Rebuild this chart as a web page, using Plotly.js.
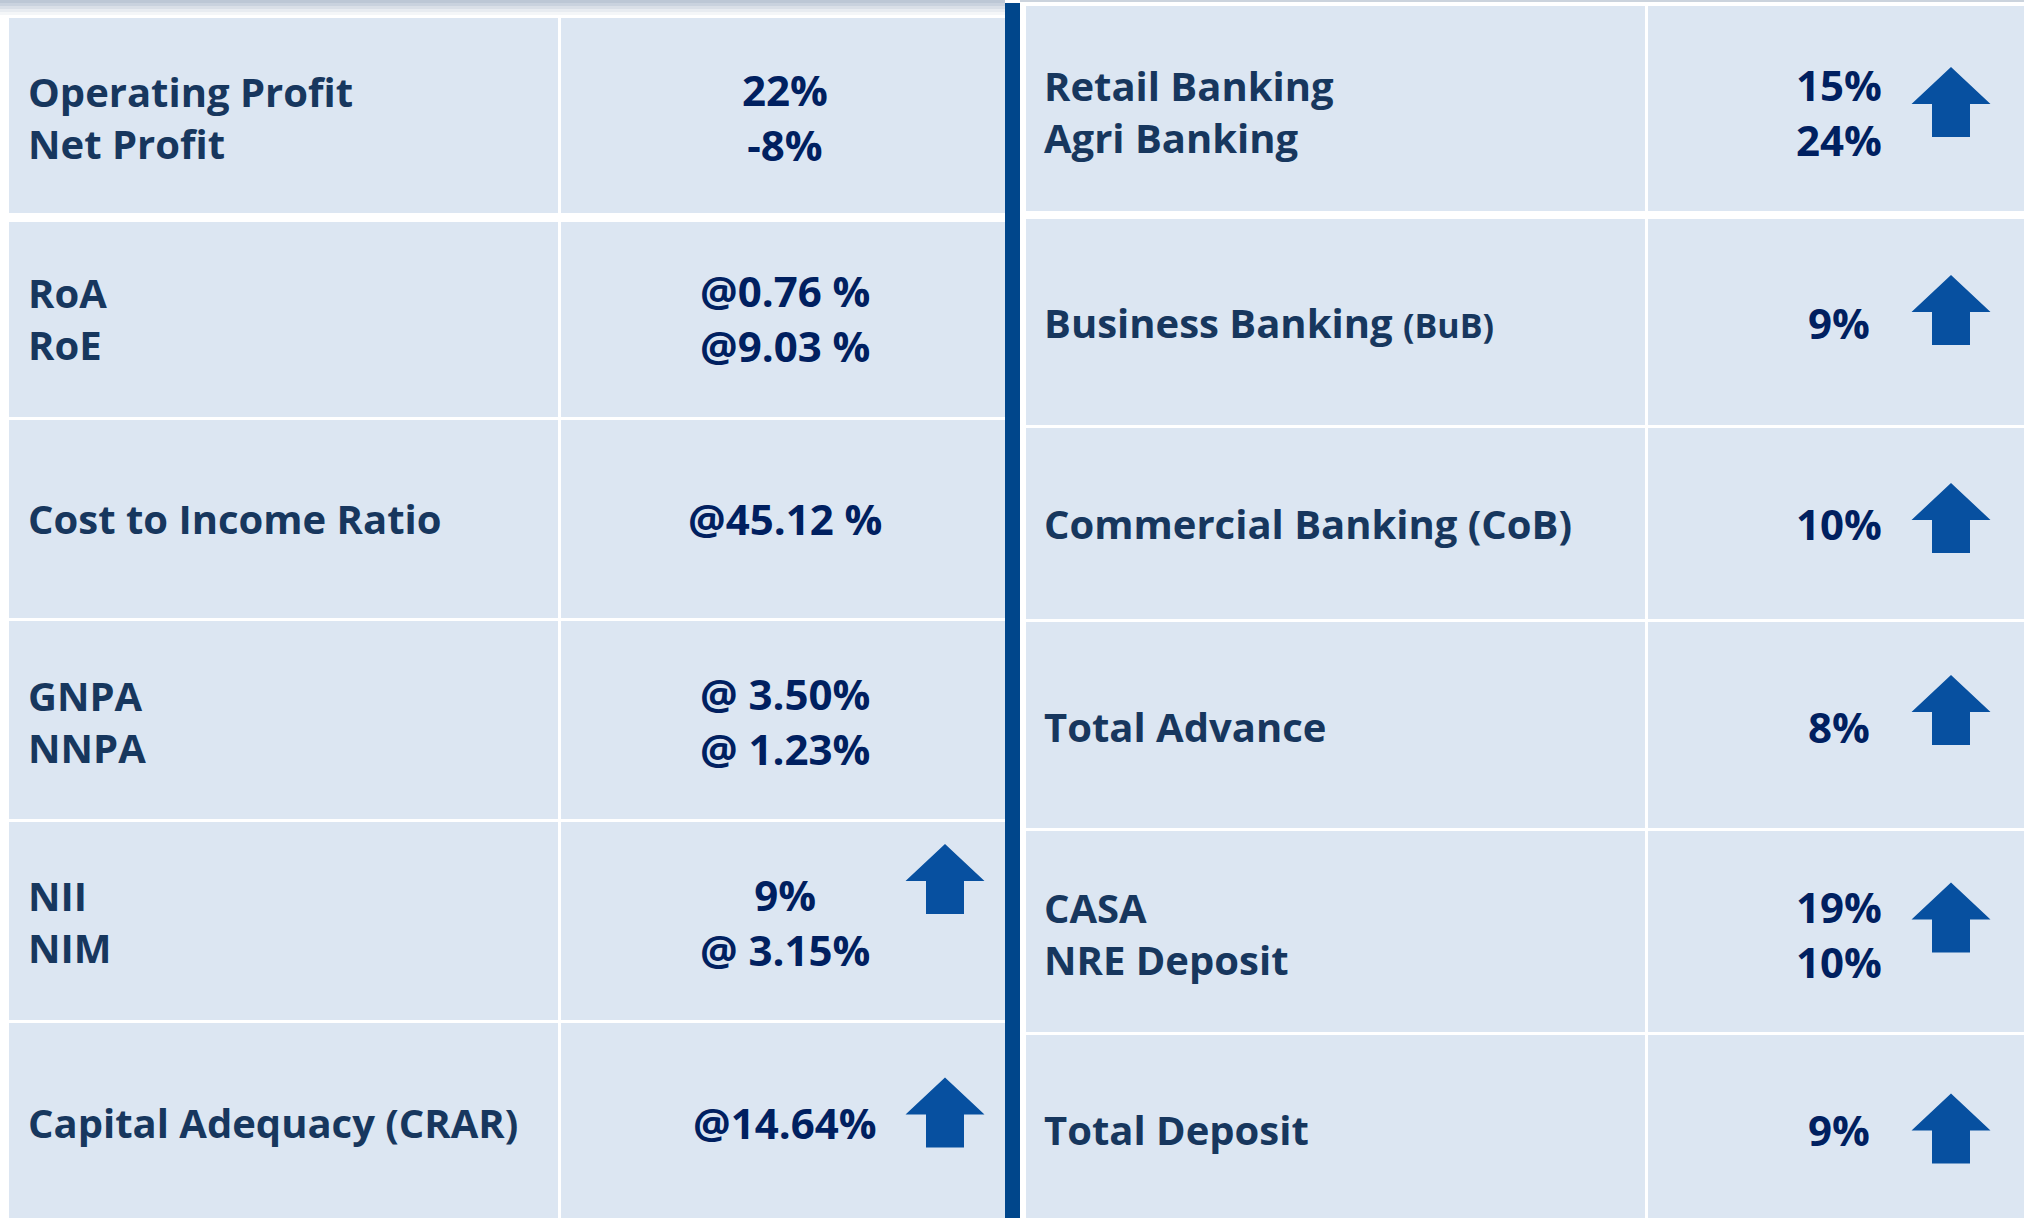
<!DOCTYPE html>
<html>
<head>
<meta charset="utf-8">
<script src="https://cdn.plot.ly/plotly-3.0.1.min.js"></script>
<style>
  html, body { margin: 0; padding: 0; background: #ffffff; }
  #chart { width: 2024px; height: 1218px; }
</style>
</head>
<body>
<div id="chart"></div>
<script>
// ---------------- DATA ----------------
const leftLabels = [
  ["Operating Profit", "Net Profit"],
  ["RoA", "RoE"],
  ["Cost to Income Ratio"],
  ["GNPA", "NNPA"],
  ["NII", "NIM"],
  ["Capital Adequacy (CRAR)"]
];
const leftValues = [
  ["22%", "-8%"],
  ["@0.76 %", "@9.03 %"],
  ["@45.12 %"],
  ["@ 3.50%", "@ 1.23%"],
  ["9%", "@ 3.15%"],
  ["@14.64%"]
];
const leftUp = [false, false, false, false, true, true];

const rightLabels = [
  ["Retail Banking", "Agri Banking"],
  ["Business Banking", "(BuB)"],
  ["Commercial Banking (CoB)"],
  ["Total Advance"],
  ["CASA", "NRE Deposit"],
  ["Total Deposit"]
];
const rightValues = [
  ["15%", "24%"],
  ["9%"],
  ["10%"],
  ["8%"],
  ["19%", "10%"],
  ["9%"]
];
const rightUp = [true, true, true, true, true, true];

// ---------------- LAYOUT GEOMETRY ----------------
const W = 2024, H = 1218;
const CELL_BG = "#DCE6F2";
const LABEL_COLOR = "#17375E";
const VALUE_COLOR = "#002060";
const ARROW_COLOR = "#0750A0";
const BAR_COLOR = "#00468B";
const FONT = "Open Sans, Noto Sans, sans-serif";
const FS_LABEL = 40;
const FS_VALUE = 42;

const panels = [
  {
    labels: leftLabels, values: leftValues, up: leftUp,
    col1: [9, 558], col2: [561, 1005],
    rows: [[18, 213], [222, 417], [420, 618], [621, 819], [822, 1020], [1023, 1230]],
    textDy: [1.5, -1.5, -1, 1, 0.5, -4],
    labelX: 26, valueX: 785, arrowX: 945,
    arrowDy: [0, 0, 0, 0, -42, -14],
    smallSuffix: []
  },
  {
    labels: rightLabels, values: rightValues, up: rightUp,
    col1: [1026, 1645], col2: [1648, 2040],
    rows: [[6, 211], [219, 425], [428, 619], [622, 828], [831, 1032], [1035, 1230]],
    textDy: [3, 0, -0.5, 1, 2, -3],
    labelX: 1042, valueX: 1839, arrowX: 1951,
    arrowDy: [-6.5, -12, -5.5, -15, -14, -4],
    smallSuffix: [1]
  }
];

const shapes = [];
const annotations = [];

// top shadow band (slide edge)
const shadow = ["#BCC7D5", "#C9D2DE", "#D9DFE7", "#E8ECF1", "#F4F6F8"];
shadow.forEach((c, i) => {
  shapes.push({type: "rect", xref: "x", yref: "y", x0: 0, x1: 1005, y0: i * 3, y1: i * 3 + 3,
    fillcolor: c, line: {width: 0}, layer: "below"});
});
shapes.push({type: "rect", xref: "x", yref: "y", x0: 1020, x1: W, y0: 0, y1: 2,
  fillcolor: "#CBD3DD", line: {width: 0}, layer: "below"});

function arrowPath(cx, cy) {
  const top = cy - 35, headBase = cy + 2, bottom = cy + 35;
  const hw = 39.5, sw = 19;
  return `M ${cx} ${top} L ${cx + hw} ${headBase} L ${cx + sw} ${headBase} L ${cx + sw} ${bottom} ` +
         `L ${cx - sw} ${bottom} L ${cx - sw} ${headBase} L ${cx - hw} ${headBase} Z`;
}

panels.forEach(p => {
  p.rows.forEach((r, i) => {
    [p.col1, p.col2].forEach(c => {
      shapes.push({type: "rect", xref: "x", yref: "y", x0: c[0], x1: c[1], y0: r[0], y1: r[1],
        fillcolor: CELL_BG, line: {width: 0}, layer: "below"});
    });
    const mid = (r[0] + r[1]) / 2 + p.textDy[i];
    const lab = p.labels[i];
    const labText = p.smallSuffix.indexOf(i) >= 0
      ? lab[0] + " <span style='font-size:34px'>" + lab[1] + "</span>"
      : lab.join("<br>");
    annotations.push({
      xref: "x", yref: "y", x: p.labelX, y: mid, xanchor: "left", yanchor: "middle",
      align: "left", text: labText, showarrow: false,
      font: {family: FONT, size: FS_LABEL, color: LABEL_COLOR, weight: 700}
    });
    annotations.push({
      xref: "x", yref: "y", x: p.valueX, y: mid, xanchor: "center", yanchor: "middle",
      align: "center", text: p.values[i].join("<br>"), showarrow: false,
      font: {family: FONT, size: FS_VALUE, color: VALUE_COLOR, weight: 700}
    });
    if (p.up[i]) {
      const cy = (r[0] + r[1]) / 2 + p.arrowDy[i];
      shapes.push({type: "path", xref: "x", yref: "y", path: arrowPath(p.arrowX, cy),
        fillcolor: ARROW_COLOR, line: {width: 0}, layer: "above"});
    }
  });
});

// vertical divider bar between the two panels
shapes.push({type: "rect", xref: "x", yref: "y", x0: 1005, x1: 1020, y0: 3, y1: 1230,
  fillcolor: BAR_COLOR, line: {width: 0}, layer: "above"});

const layout = {
  width: W, height: H,
  margin: {l: 0, r: 0, t: 0, b: 0, pad: 0},
  paper_bgcolor: "#ffffff", plot_bgcolor: "#ffffff",
  showlegend: false,
  xaxis: {range: [0, W], visible: false, fixedrange: true},
  yaxis: {range: [H, 0], visible: false, fixedrange: true},
  shapes: shapes,
  annotations: annotations
};

Plotly.newPlot("chart", [{x: [], y: [], type: "scatter", mode: "markers", hoverinfo: "skip"}], layout,
  {staticPlot: true, displayModeBar: false});
</script>
</body>
</html>
